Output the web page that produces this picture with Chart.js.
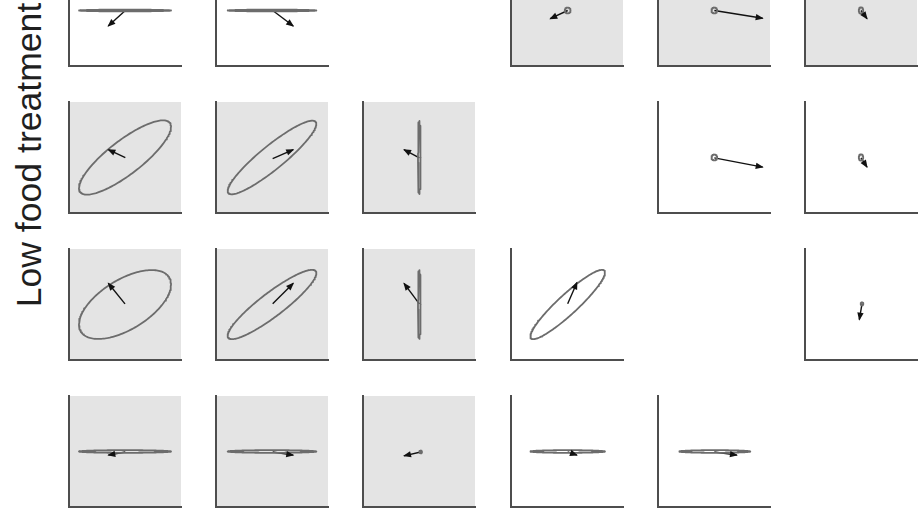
<!DOCTYPE html>
<html><head><meta charset="utf-8">
<script src="https://cdn.jsdelivr.net/npm/chart.js@4.4.1/dist/chart.umd.min.js"></script>
<style>
html,body{margin:0;padding:0;background:#fff;width:918px;height:517px;overflow:hidden;position:relative}
canvas{position:absolute}
#lbl{position:absolute;left:30px;top:154.5px;transform:translate(-50%,-50%) rotate(-90deg);font-family:"Liberation Sans",Arial,sans-serif;font-size:35.6px;line-height:35.6px;white-space:nowrap;color:#1f1f1f}
</style></head><body>
<div id="lbl">Low food treatment</div>
<script>
// ---- data (panel coordinates 0..1) ----
const shading = [
  ['w','w','', 'g','g','g'],
  ['g','g','g','', 'w','w'],
  ['g','g','g','w','', 'w'],
  ['g','g','g','w','w','']
];
const ellCx = [
  [0.500,0.500,0,0.506,0.503,0.500],
  [0.500,0.500,0.503,0,0.503,0.500],
  [0.500,0.500,0.503,0.506,0,0.509],
  [0.500,0.500,0.515,0.506,0.507,0]
];
const ellCy = [
  [0.500,0.500,0,0.500,0.500,0.500],
  [0.500,0.500,0.500,0,0.500,0.500],
  [0.500,0.500,0.500,0.500,0,0.506],
  [0.500,0.500,0.496,0.500,0.500,0]
];
const ellA = [
  [0.411,0.396,0,0.026,0.026,0.020],
  [0.508,0.505,0.012,0,0.026,0.020],
  [0.464,0.493,0.012,0.448,0,0.012],
  [0.411,0.396,0.012,0.333,0.317,0]
];
const ellB = [
  [0.008,0.008,0,0.026,0.026,0.028],
  [0.152,0.107,0.329,0,0.026,0.028],
  [0.223,0.107,0.310,0.089,0,0.014],
  [0.012,0.012,0.012,0.012,0.012,0]
];
const ellAngle = [
  [0,0,0,0,0,0],
  [38,39.5,0,0,0,0],
  [32,37.6,0,43,0,0],
  [0,0,0,0,0,0]
];
const arrX0 = [
  [0.503,0.506,0,0.506,0.503,0.500],
  [0.503,0.506,0.503,0,0.503,0.500],
  [0.500,0.506,0.503,0.506,0,0.509],
  [0.503,0.506,0.515,0.506,0.503,0]
];
const arrY0 = [
  [0.500,0.500,0,0.500,0.500,0.500],
  [0.498,0.490,0.497,0,0.497,0.497],
  [0.506,0.506,0.506,0.506,0,0.506],
  [0.496,0.496,0.496,0.496,0.496,0]
];
const arrX1 = [
  [0.350,0.690,0,0.350,0.935,0.554],
  [0.351,0.690,0.366,0,0.935,0.554],
  [0.351,0.690,0.366,0.589,0,0.485],
  [0.351,0.690,0.366,0.589,0.705,0]
];
const arrY1 = [
  [0.360,0.360,0,0.426,0.430,0.426],
  [0.571,0.571,0.571,0,0.413,0.413],
  [0.691,0.691,0.691,0.699,0,0.363],
  [0.467,0.467,0.461,0.467,0.467,0]
];

// ---- layout ----
const colLeft = [69,216,363,511,658,805];
const rowTop = [-45,102,249,396];
const PW = 112, PH = 111, PAD = 6;

function ellipsePoints(cx, cy, a, b, deg){
  const th = deg*Math.PI/180, pts = [];
  for (let i=0;i<=180;i++){
    const t = i/180*2*Math.PI;
    pts.push({x: cx + a*Math.cos(t)*Math.cos(th) - b*Math.sin(t)*Math.sin(th),
              y: cy + a*Math.cos(t)*Math.sin(th) + b*Math.sin(t)*Math.cos(th)});
  }
  return pts;
}

const bgPlugin = {
  id:'panelBg',
  beforeDraw(chart, args, opts){
    if (!opts.grey) return;
    const ca = chart.chartArea, ctx = chart.ctx;
    ctx.save(); ctx.fillStyle = '#e4e4e4';
    ctx.fillRect(ca.left, ca.top, ca.right-ca.left, ca.bottom-ca.top);
    ctx.restore();
  }
};
const headPlugin = {
  id:'arrowHead',
  afterDatasetsDraw(chart){
    const meta = chart.getDatasetMeta(1);
    const p0 = meta.data[0], p1 = meta.data[1];
    const dx = p1.x-p0.x, dy = p1.y-p0.y, L = Math.hypot(dx,dy) || 1;
    const ux = dx/L, uy = dy/L, hl = 7, hw = 3.2;
    const ctx = chart.ctx;
    ctx.save(); ctx.fillStyle = '#111';
    ctx.beginPath();
    ctx.moveTo(p1.x+ux*1, p1.y+uy*1);
    ctx.lineTo(p1.x-ux*hl - uy*hw, p1.y-uy*hl + ux*hw);
    ctx.lineTo(p1.x-ux*hl + uy*hw, p1.y-uy*hl - ux*hw);
    ctx.closePath(); ctx.fill(); ctx.restore();
  }
};

const axisCommon = {
  type:'linear', min:0, max:1,
  grid:{display:false, drawTicks:false, tickLength:0},
  ticks:{display:false},
  title:{display:false}
};

for (let r=0;r<4;r++){
  for (let c=0;c<6;c++){
    const sh = shading[r][c];
    if (!sh) continue;
    const cv = document.createElement('canvas');
    cv.width = PW+2*PAD; cv.height = PH+2*PAD;
    cv.style.left = (colLeft[c]-PAD)+'px';
    cv.style.top = (rowTop[r]-PAD)+'px';
    cv.style.width = cv.width+'px'; cv.style.height = cv.height+'px';
    document.body.appendChild(cv);
    new Chart(cv, {
      type:'scatter',
      data:{datasets:[
        {data: ellipsePoints(ellCx[r][c], ellCy[r][c], ellA[r][c], ellB[r][c], ellAngle[r][c]),
         showLine:true, borderColor:'#6c6c6c', borderWidth:1.8, borderJoinStyle:'round', borderCapStyle:'round',
         pointRadius:0, tension:0, fill:false},
        {data:[{x:arrX0[r][c], y:arrY0[r][c]},{x:arrX1[r][c], y:arrY1[r][c]}],
         showLine:true, borderColor:'#111', borderWidth:1.4, pointRadius:0, fill:false}
      ]},
      options:{
        responsive:false, animation:false, devicePixelRatio:1,
        layout:{padding:PAD},
        plugins:{legend:{display:false}, tooltip:{enabled:false}, panelBg:{grey: sh==='g'}},
        events:[],
        scales:{
          x:Object.assign({}, axisCommon, {position:'bottom', border:{display:true,color:'#4e4e4e',width:2}}),
          y:Object.assign({}, axisCommon, {position:'left', border:{display:true,color:'#4e4e4e',width:2}})
        }
      },
      plugins:[bgPlugin, headPlugin]
    });
  }
}
</script>
</body></html>
